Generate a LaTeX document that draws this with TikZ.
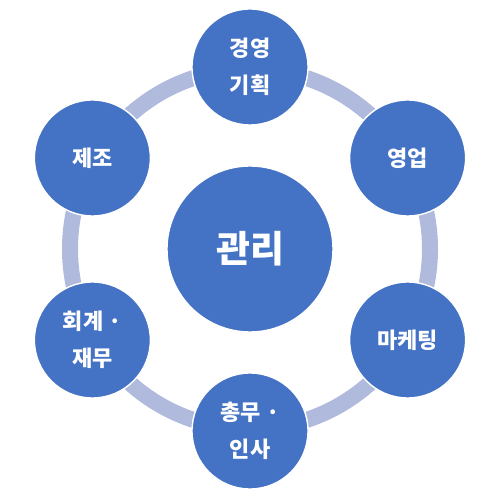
\documentclass[tikz,border=0pt]{standalone}
\usepackage{fontspec}
\newfontfamily\cjk{Noto Sans CJK KR}
\usepackage{tikz}
\usetikzlibrary{positioning}
\definecolor{hubblue}{HTML}{4472C4}
\definecolor{ringblue}{HTML}{AFBADC}

\tikzset{
    hub/.style={circle, fill=hubblue, draw=white, line width=0.8pt,
        minimum size=3.32cm, inner sep=0pt, text=white,
        font=\cjk\bfseries\fontsize{21}{25}\selectfont},
    dept/.style={circle, fill=hubblue, draw=white, line width=0.8pt,
        minimum size=2.32cm, inner sep=0pt, text=white, align=center,
        font=\cjk\bfseries\fontsize{12.5}{21}\selectfont}
}

\begin{document}
\begin{tikzpicture}
    \useasboundingbox (-5,-5.02) rectangle (5,4.98);

    % Ring behind the departments
    \draw[ringblue, line width=0.32cm] (0,0) circle (3.6);

    % Centre
    \node[hub] (mgmt) at (0,0) {관리};

    % Departments
    \node[dept] (plan) at (90:3.64) {경영\\기획};
    \node[dept] (sales) at (30:3.64) {영업};
    \node[dept] (mkt) at (-30:3.64) {마케팅};
    \node[dept] (hr) at (-90:3.64) {총무 ·\\인사};
    \node[dept] (acct) at (-150:3.64) {회계 ·\\재무};
    \node[dept] (prod) at (150:3.64) {제조};
\end{tikzpicture}
\end{document}
